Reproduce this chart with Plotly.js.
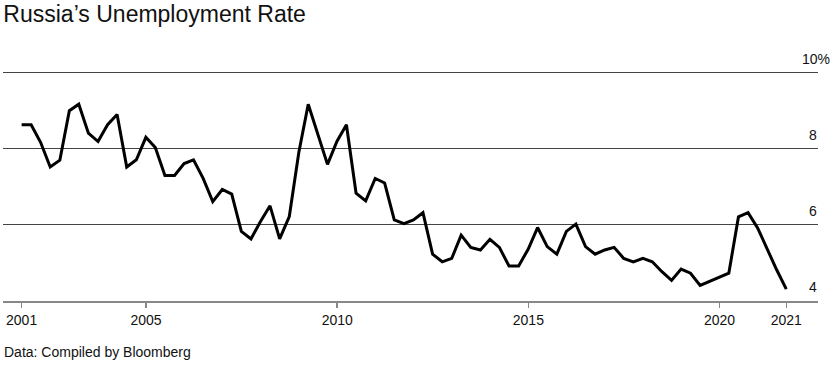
<!DOCTYPE html>
<html>
<head>
<meta charset="utf-8">
<script src="https://cdn.plot.ly/plotly-3.0.1.min.js"></script>
<style>
  html, body { margin: 0; padding: 0; background: #fff; }
  #chart { width: 836px; height: 369px; }
</style>
</head>
<body>
<div id="chart"></div>
<script>
// Quarterly unemployment rate (%), Q3 2001 .. Q3 2021
const startYear = 2001;
const startMonth = 9;
const unemployment = [
  8.63, 8.63, 8.17, 7.52, 7.70, 9.00, 9.17, 8.41, 8.19, 8.63,
  8.90, 7.52, 7.71, 8.30, 8.03, 7.30, 7.30, 7.61, 7.71, 7.22,
  6.61, 6.93, 6.81, 5.83, 5.63, 6.09, 6.50, 5.63, 6.22, 7.90,
  9.17, 8.35, 7.59, 8.20, 8.63, 6.83, 6.63, 7.22, 7.10, 6.13,
  6.03, 6.13, 6.32, 5.23, 5.03, 5.12, 5.73, 5.41, 5.34, 5.62,
  5.41, 4.92, 4.92, 5.36, 5.93, 5.43, 5.23, 5.83, 6.02, 5.43,
  5.23, 5.34, 5.41, 5.12, 5.03, 5.12, 5.03, 4.77, 4.54, 4.84,
  4.73, 4.41, 4.52, 4.62, 4.73, 6.21, 6.32, 5.92, 5.36, 4.82,
  4.31
];

// Quarter dates
const quarters = [];
for (let i = 0; i < unemployment.length; i++) {
  const m0 = (startMonth - 1) + i * 3;
  const y = startYear + Math.floor(m0 / 12);
  const m = (m0 % 12) + 1;
  quarters.push(y + '-' + String(m).padStart(2, '0') + '-30');
}

const xTickVals = ['2001-09-30', '2005-01-01', '2010-01-01', '2015-01-01', '2020-01-01', '2021-09-30'];
const xTickText = ['2001', '2005', '2010', '2015', '2020', '2021'];
const yTickVals = [4, 6, 8, 10];
const yTickText = ['4', '6', '8', '10%'];

const trace = {
  x: quarters,
  y: unemployment,
  type: 'scatter',
  mode: 'lines',
  line: { color: '#000', width: 3 },
  hoverinfo: 'x+y'
};

const annotations = yTickVals.map((v, i) => ({
  xref: 'paper', yref: 'y',
  x: yTickText[i].indexOf('%') >= 0 ? 1.0166 : 1.0012,
  y: v,
  text: yTickText[i],
  showarrow: false,
  xanchor: 'right',
  yanchor: 'middle',
  yshift: 14,
  font: { family: 'Liberation Sans, Arial, sans-serif', size: 14, color: '#111' }
}));

annotations.push({
  xref: 'paper', yref: 'paper',
  x: -0.001, y: -0.172,
  xanchor: 'left', yanchor: 'top',
  text: 'Data: Compiled by Bloomberg',
  showarrow: false,
  font: { family: 'Liberation Sans, Arial, sans-serif', size: 14, color: '#111' }
});

const layout = {
  width: 836,
  height: 369,
  margin: { l: 3, r: 18, t: 65, b: 68 },
  paper_bgcolor: '#fff',
  plot_bgcolor: '#fff',
  showlegend: false,
  title: {
    text: 'Russia’s Unemployment Rate',
    xref: 'container', yref: 'container',
    x: 0.004, xanchor: 'left',
    y: 1 - 14 / 369, yanchor: 'middle',
    font: { family: 'Liberation Sans, Arial, sans-serif', size: 23, color: '#111' }
  },
  xaxis: {
    type: 'date',
    range: ['2001-04-05', '2022-07-30'],
    tickmode: 'array',
    tickvals: xTickVals,
    ticktext: xTickText,
    showgrid: false,
    zeroline: false,
    showline: true,
    linecolor: '#888',
    linewidth: 2,
    ticks: 'outside',
    ticklen: 5,
    tickwidth: 1.5,
    tickcolor: '#888',
    tickfont: { family: 'Liberation Sans, Arial, sans-serif', size: 14, color: '#111' },
    fixedrange: true
  },
  yaxis: {
    range: [4, 10.2],
    tickmode: 'array',
    tickvals: [6, 8, 10],
    showticklabels: false,
    showgrid: true,
    gridcolor: '#444',
    gridwidth: 1,
    zeroline: false,
    showline: false,
    ticks: '',
    fixedrange: true
  },
  annotations: annotations
};

Plotly.newPlot('chart', [trace], layout, { displayModeBar: false, staticPlot: true });
</script>
</body>
</html>
